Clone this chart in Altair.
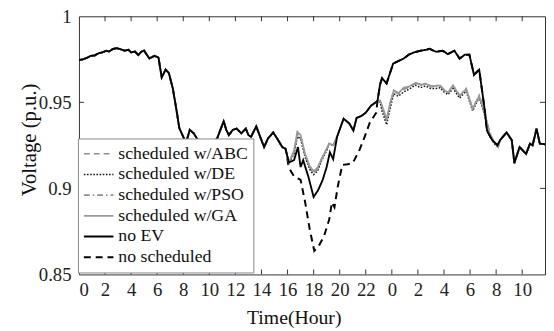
import altair as alt
import pandas as pd

# ---------------- data ----------------
# base curve: no EV
NOEV_H = [0.0, 0.3, 0.6, 0.9, 1.2, 1.5, 1.8, 2.1, 2.3, 2.6, 2.9, 3.2, 3.5, 3.8, 4.0, 4.3, 4.55, 4.8, 5.0,
          5.4, 5.8, 6.1, 6.35, 6.65, 6.9, 7.2, 7.45, 7.7, 8.0, 8.2, 8.5, 8.8, 9.05, 9.4, 9.8, 10.2, 10.6,
          10.9, 11.1, 11.3, 11.5, 11.8, 12.1, 12.45, 12.8, 13.0, 13.2, 13.4, 13.6, 13.9, 14.2, 14.5, 14.9,
          15.2, 15.6, 15.85, 16.1, 16.5, 16.8, 17.0, 17.2, 17.6, 18.0, 18.35, 18.7, 19.0, 19.25, 19.5, 19.8,
          20.3, 20.75, 21.05, 21.3, 21.65, 22.0, 22.4, 22.9, 23.1, 23.25, 23.6, 24.1, 24.5, 24.9, 25.3,
          25.7, 26.2, 26.6, 26.9, 27.2, 27.4, 27.9, 28.3, 28.8, 29.2, 29.6, 29.95, 30.3, 30.7, 31.1, 31.3,
          31.7, 32.1, 32.3, 32.8, 33.2, 33.4, 33.8, 34.3, 34.6, 34.8, 35.1, 35.35, 35.75]
NOEV_V = [0.9745, 0.9750, 0.9758, 0.9770, 0.9772, 0.9785, 0.9790, 0.9800, 0.9795, 0.9810, 0.9815, 0.9808,
          0.9800, 0.9805, 0.9790, 0.9795, 0.9775, 0.9795, 0.9800, 0.9755, 0.9770, 0.9760, 0.9645, 0.9690,
          0.9670, 0.9580, 0.9470, 0.9350, 0.9300, 0.9260, 0.9340, 0.9320, 0.9290, 0.9250, 0.9230, 0.9260,
          0.9290, 0.9350, 0.9390, 0.9340, 0.9310, 0.9340, 0.9347, 0.9320, 0.9347, 0.9310, 0.9300, 0.9330,
          0.9360, 0.9300, 0.9240, 0.9290, 0.9325, 0.9290, 0.9240, 0.9230, 0.9150, 0.9164, 0.9240, 0.9124,
          0.9164, 0.9067, 0.8950, 0.8990, 0.9050, 0.9124, 0.9210, 0.9170, 0.9300, 0.9405, 0.9376, 0.9336,
          0.9410, 0.9420, 0.9440, 0.9480, 0.9508, 0.9605, 0.9640, 0.9610, 0.9725, 0.9740, 0.9754, 0.9777,
          0.9790, 0.9800, 0.9805, 0.9811, 0.9800, 0.9794, 0.9800, 0.9780, 0.9800, 0.9754, 0.9777, 0.9777,
          0.9660, 0.9690, 0.9470, 0.9336, 0.9280, 0.9250, 0.9280, 0.9325, 0.9280, 0.9147, 0.9240, 0.9200,
          0.9260, 0.9250, 0.9347, 0.9260, 0.9256]

# scheduled curves differ from "no EV" inside this window
SCH_H = [16.1, 16.5, 16.75, 17.0, 17.35, 17.7, 18.0, 18.3, 18.6, 19.0, 19.2, 19.5, 19.8, 20.3, 20.75, 21.05,
         21.3, 21.65, 22.0, 22.4, 22.9, 23.1, 23.25, 23.6, 23.85, 24.15, 24.5, 24.9, 25.3, 25.8, 26.2, 26.6,
         27.0, 27.4, 27.7, 28.0, 28.3, 28.7, 29.2, 29.7, 30.2, 30.7, 31.1, 31.5, 31.85, 32.15]
ABC_V = [0.915, 0.921, 0.932, 0.930, 0.919, 0.912, 0.909, 0.911, 0.9164, 0.923, 0.926, 0.925, 0.930, 0.9405,
         0.9376, 0.9336, 0.941, 0.942, 0.944, 0.948, 0.9508, 0.951, 0.947, 0.939, 0.948, 0.9565, 0.9548,
         0.9576, 0.9585, 0.961, 0.960, 0.9605, 0.959, 0.9593, 0.9594, 0.957, 0.9553, 0.9594, 0.9536, 0.9576,
         0.946, 0.9536, 0.944, 0.932, 0.9267, 0.924]
DE_V = [0.915, 0.920, 0.930, 0.929, 0.918, 0.911, 0.908, 0.910, 0.916, 0.922, 0.926, 0.925, 0.930, 0.9405,
        0.9376, 0.9336, 0.941, 0.942, 0.944, 0.948, 0.9508, 0.950, 0.945, 0.937, 0.946, 0.955, 0.9535,
        0.956, 0.9575, 0.960, 0.9585, 0.9595, 0.958, 0.958, 0.9585, 0.956, 0.9545, 0.958, 0.9525, 0.9565,
        0.945, 0.953, 0.943, 0.931, 0.926, 0.924]
PSO_V = [0.915, 0.921, 0.931, 0.930, 0.919, 0.912, 0.909, 0.911, 0.917, 0.923, 0.926, 0.925, 0.930, 0.9405,
         0.9376, 0.9336, 0.941, 0.942, 0.944, 0.948, 0.9508, 0.951, 0.948, 0.940, 0.949, 0.957, 0.9555,
         0.958, 0.959, 0.9615, 0.9605, 0.961, 0.9595, 0.9598, 0.960, 0.9575, 0.9558, 0.960, 0.954, 0.958,
         0.9465, 0.954, 0.9445, 0.9325, 0.927, 0.924]
GA_V = [0.915, 0.922, 0.933, 0.931, 0.920, 0.913, 0.910, 0.912, 0.917, 0.923, 0.926, 0.925, 0.930, 0.9405,
        0.9376, 0.9336, 0.941, 0.942, 0.944, 0.948, 0.9508, 0.951, 0.948, 0.940, 0.949, 0.9568, 0.9552,
        0.9585, 0.9592, 0.9612, 0.9602, 0.9608, 0.9592, 0.9596, 0.9597, 0.9572, 0.9556, 0.9597, 0.9538,
        0.9578, 0.9462, 0.9538, 0.9442, 0.9322, 0.9268, 0.924]

# "no scheduled" differs from "no EV" inside this window
NS_H = [16.1, 16.5, 17.0, 17.35, 17.7, 18.05, 18.4, 18.8, 19.2, 19.4, 19.6, 19.85, 20.2, 20.6, 21.0, 21.5,
        21.9, 22.3, 22.8]
NS_V = [0.912, 0.907, 0.905, 0.892, 0.8763, 0.8637, 0.8666, 0.8723, 0.882, 0.8918, 0.889, 0.901, 0.9136,
        0.914, 0.9147, 0.922, 0.9296, 0.938, 0.944]

SERIES = ["scheduled w/ABC", "scheduled w/DE", "scheduled w/PSO", "scheduled w/GA", "no EV", "no scheduled"]
COLORS = ["#8f8f8f", "#111111", "#8f8f8f", "#9a9a9a", "#000000", "#000000"]
DASHES = [[6, 4], [1.6, 1.6], [6, 3, 1.5, 3], [1, 0], [1, 0], [7, 5]]
WIDTHS = [1.4, 2.0, 1.4, 1.4, 2.8, 2.8]

X_TICKS = list(range(0, 35, 2))
Y_TICKS = [0.85, 0.9, 0.95, 1.0]


def merge(h_in, v_in):
    lo, hi = h_in[0], h_in[-1]
    pts = [(h, v) for h, v in zip(NOEV_H, NOEV_V) if h < lo or h > hi]
    pts += list(zip(h_in, v_in))
    pts.sort()
    return pts


rows = []
for name, vals in zip(SERIES[:4], [ABC_V, DE_V, PSO_V, GA_V]):
    for h, v in merge(SCH_H, vals):
        rows.append({"hour": h, "v": v, "series": name})
for h, v in zip(NOEV_H, NOEV_V):
    rows.append({"hour": h, "v": v, "series": "no EV"})
for h, v in merge(NS_H, NS_V):
    rows.append({"hour": h, "v": v, "series": "no scheduled"})
df = pd.DataFrame(rows)

W, H = 473, 262
FONT = "'Liberation Serif', 'DejaVu Serif', serif"
AX = "#333333"

xscale = alt.Scale(domain=[0, 35.75], nice=False, zero=False)
yscale = alt.Scale(domain=[0.85, 1.0], nice=False, zero=False)

legend = alt.Legend(
    title=None, orient="none", legendX=-1, legendY=124, direction="vertical",
    fillColor="white", strokeColor="#888888", padding=5, offset=0,
    symbolType="stroke", symbolSize=900, clipHeight=21, labelFont=FONT, labelFontSize=18,
    labelColor="#111111", labelOffset=4, rowPadding=0, labelLimit=300,
)

xaxis = alt.Axis(
    values=X_TICKS, labelExpr="datum.value >= 24 ? datum.value - 24 : datum.value",
    title="Time(Hour)", ticks=False, domain=False, grid=False, labelOverlap=False,
    labelFont=FONT, labelFontSize=19, labelColor="#222222", labelPadding=6,
    titleFont=FONT, titleFontSize=20, titleFontWeight="normal", titleColor="#111111",
    titleX=218, titleY=50, titleAlign="center", titleBaseline="alphabetic")
yaxis = alt.Axis(
    values=Y_TICKS, format="~g", title="Voltage (p.u.)", ticks=False, domain=False, grid=False,
    labelOverlap=False,
    labelFont=FONT, labelFontSize=19, labelColor="#222222", labelPadding=8,
    titleFont=FONT, titleFontSize=21, titleFontWeight="normal", titleColor="#111111",
    titleX=-50, titleY=125, titleAngle=270, titleAlign="center", titleBaseline="middle")


def layer_for(names):
    return alt.Chart(df).transform_filter(
        alt.FieldOneOfPredicate(field="series", oneOf=names)
    ).mark_line(clip=True).encode(
        x=alt.X("hour:Q", scale=xscale, axis=xaxis),
        y=alt.Y("v:Q", scale=yscale, axis=yaxis),
        color=alt.Color("series:N", scale=alt.Scale(domain=SERIES, range=COLORS), legend=legend,
                        sort=SERIES),
        strokeDash=alt.StrokeDash("series:N", scale=alt.Scale(domain=SERIES, range=DASHES), legend=legend,
                                  sort=SERIES),
        strokeWidth=alt.StrokeWidth("series:N", scale=alt.Scale(domain=SERIES, range=WIDTHS), legend=legend,
                                    sort=SERIES),
        detail="series:N",
    )


xt = pd.DataFrame({"t": X_TICKS[1:]})
yt = pd.DataFrame({"t": Y_TICKS[1:-1]})
tick_bottom = alt.Chart(xt).mark_rule(color=AX, strokeWidth=1).encode(
    x=alt.X("t:Q", scale=xscale, axis=xaxis), y=alt.value(H), y2=alt.value(H - 5))
tick_top = alt.Chart(xt).mark_rule(color=AX, strokeWidth=1).encode(
    x=alt.X("t:Q", scale=xscale, axis=xaxis), y=alt.value(0), y2=alt.value(5))
tick_left = alt.Chart(yt).mark_rule(color=AX, strokeWidth=1).encode(
    y=alt.Y("t:Q", scale=yscale, axis=yaxis), x=alt.value(0), x2=alt.value(5))
tick_right = alt.Chart(yt).mark_rule(color=AX, strokeWidth=1).encode(
    y=alt.Y("t:Q", scale=yscale, axis=yaxis), x=alt.value(W - 5), x2=alt.value(W))

chart = alt.layer(
    layer_for(["no scheduled"]),
    layer_for(["scheduled w/ABC"]),
    layer_for(["scheduled w/DE"]),
    layer_for(["scheduled w/PSO"]),
    layer_for(["scheduled w/GA"]),
    layer_for(["no EV"]),
    tick_bottom, tick_top, tick_left, tick_right,
).properties(
    width=W, height=H,
    autosize=alt.AutoSizeParams(type="none"),
    padding={"left": 72, "top": 6, "right": 1, "bottom": 55},
    background="white",
).configure_view(
    stroke=AX, strokeWidth=1
).configure_axis(
    labelFont=FONT, titleFont=FONT, labelOverlap=False
).configure_legend(
    labelFont=FONT
)

chart.save("out.html", embed_options={"renderer": "svg", "actions": False})
